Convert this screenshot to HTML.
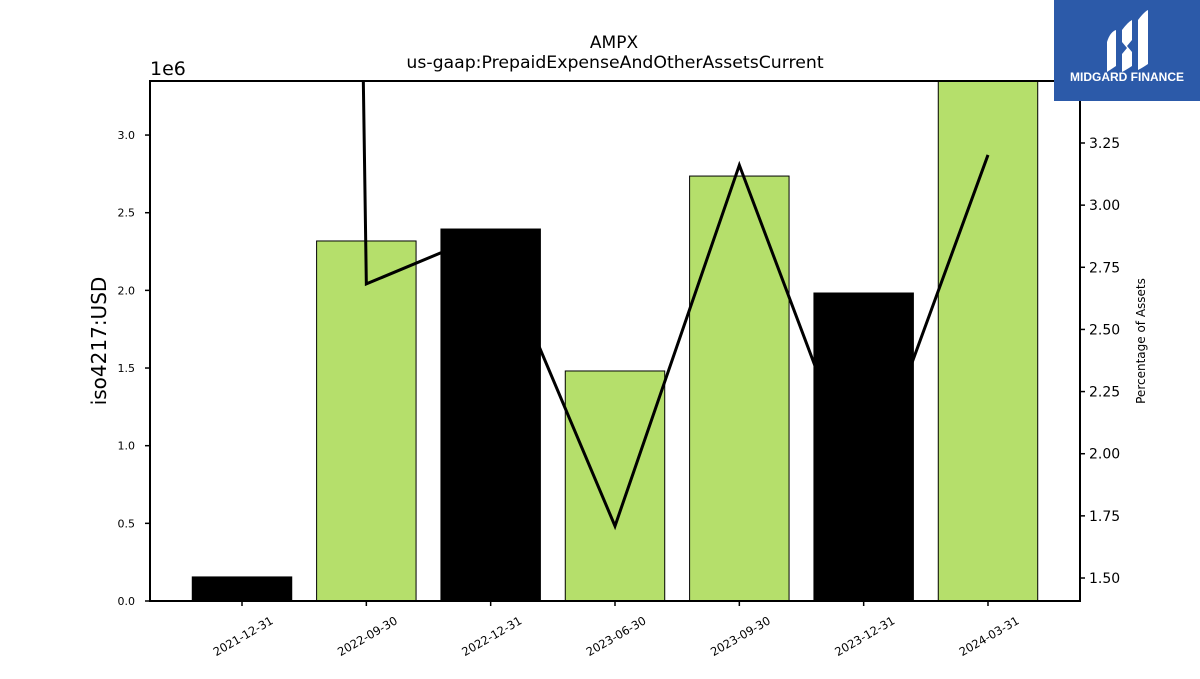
<!DOCTYPE html>
<html><head><meta charset="utf-8"><style>
body{margin:0;background:#fff;width:1200px;height:675px;overflow:hidden;font-family:"DejaVu Sans","Liberation Sans",sans-serif}
</style></head><body>
<svg id="c" width="1200" height="675" xmlns="http://www.w3.org/2000/svg" font-family="DejaVu Sans, Liberation Sans, sans-serif">
<defs><clipPath id="clip"><rect x="150" y="81" width="930" height="520"/></clipPath></defs>
<text x="614" y="48" font-size="17" text-anchor="middle">AMPX</text>
<text x="615" y="68" font-size="17.3" text-anchor="middle">us-gaap:PrepaidExpenseAndOtherAssetsCurrent</text>
<text x="150" y="75" font-size="19">1e6</text>
<text transform="translate(106,341) rotate(-90)" font-size="20" text-anchor="middle">iso4217:USD</text>
<text transform="translate(1145,341) rotate(-90)" font-size="12" text-anchor="middle">Percentage of Assets</text>
<g id="bars" clip-path="url(#clip)"></g>
<g id="line" clip-path="url(#clip)"></g>
<g id="axes"></g>
<rect x="150" y="81" width="930" height="520" fill="none" stroke="#000" stroke-width="2"/>
<g>
<rect x="1054" y="0" width="146" height="101" fill="#2c5aa9"/>
<path d="M1107 42 Q1110 32 1116 30 L1116 66 Q1110 70 1107 72 Z" fill="#fff"/>
<path d="M1122 30 Q1128 22 1132 20 L1132 40 L1127 46 L1132 52 L1132 66 Q1126 70 1122 72 L1122 54 L1127 48 L1122 42 Z" fill="#fff"/>
<path d="M1138 20 Q1144 12 1148 10 L1148 64 Q1142 68 1138 70 Z" fill="#fff"/>
<text x="1127" y="81" font-size="12" font-weight="bold" fill="#fff" text-anchor="middle" font-family="Liberation Sans, sans-serif">MIDGARD FINANCE</text>
</g>
</svg>
<script>
const categories=["2021-12-31","2022-09-30","2022-12-31","2023-06-30","2023-09-30","2023-12-31","2024-03-31"];
const barValues=[0.155e6,2.318e6,2.395e6,1.481e6,2.736e6,1.983e6,3.37e6];
const pctValues=[36.4,2.683,2.892,1.709,3.161,1.834,3.202];
const leftTicks=[0,0.5,1.0,1.5,2.0,2.5,3.0];
const rightTicks=[1.5,1.75,2.0,2.25,2.5,2.75,3.0,3.25];
const barColors=['#000','#b5df6b','#000','#b5df6b','#b5df6b','#000','#b5df6b'];
const NS="http://www.w3.org/2000/svg";
const X0=150,X1=1080,Y0=601,Y1=81;
const yL=v=>Y0-(v/3.348e6)*(Y0-Y1);
const yR=v=>Y0-(v-1.4075)/(3.4994-1.4075)*(Y0-Y1);
const step=(X1-X0)/(categories.length+0.48);
const xC=i=>X0+step*(0.74+i);
function mk(t,a,p){const e=document.createElementNS(NS,t);for(const k in a)e.setAttribute(k,a[k]);p.appendChild(e);return e;}
const bars=document.getElementById('bars'),axes=document.getElementById('axes'),line=document.getElementById('line');
const bw=step*0.8;
barValues.forEach((v,i)=>{
 const r=mk('rect',{x:xC(i)-bw/2,y:yL(v),width:bw,height:Y0-yL(v),fill:barColors[i%barColors.length],stroke:'#000','stroke-width':1},bars);
 
 
});
const pl=mk('polyline',{points:pctValues.map((v,i)=>xC(i)+','+yR(v)).join(' '),fill:'none',stroke:'#000','stroke-width':3,'stroke-linejoin':'miter'},line);


leftTicks.forEach(t=>{
 const y=yL(t*1e6);
 mk('line',{x1:X0-5,x2:X0,y1:y,y2:y,stroke:'#000','stroke-width':1.5},axes);
 const tx=mk('text',{x:X0-15,y:y+4,'font-size':11,'text-anchor':'end'},axes);tx.textContent=t.toFixed(1);
 
 
});
rightTicks.forEach(t=>{
 const y=yR(t);
 mk('line',{x1:X1,x2:X1+5,y1:y,y2:y,stroke:'#000','stroke-width':1.5},axes);
 const tx=mk('text',{x:X1+9,y:y+5,'font-size':14},axes);tx.textContent=t.toFixed(2);
 
 
});
categories.forEach((c,i)=>{
 const x=xC(i);
 mk('line',{x1:x,x2:x,y1:Y0,y2:Y0+5,stroke:'#000','stroke-width':1.5},axes);
 const tx=mk('text',{transform:`translate(${x+32},${Y0+22}) rotate(-30)`,'font-size':11.5,'text-anchor':'end'},axes);tx.textContent=c;
 
 
});
</script>
</body></html>
